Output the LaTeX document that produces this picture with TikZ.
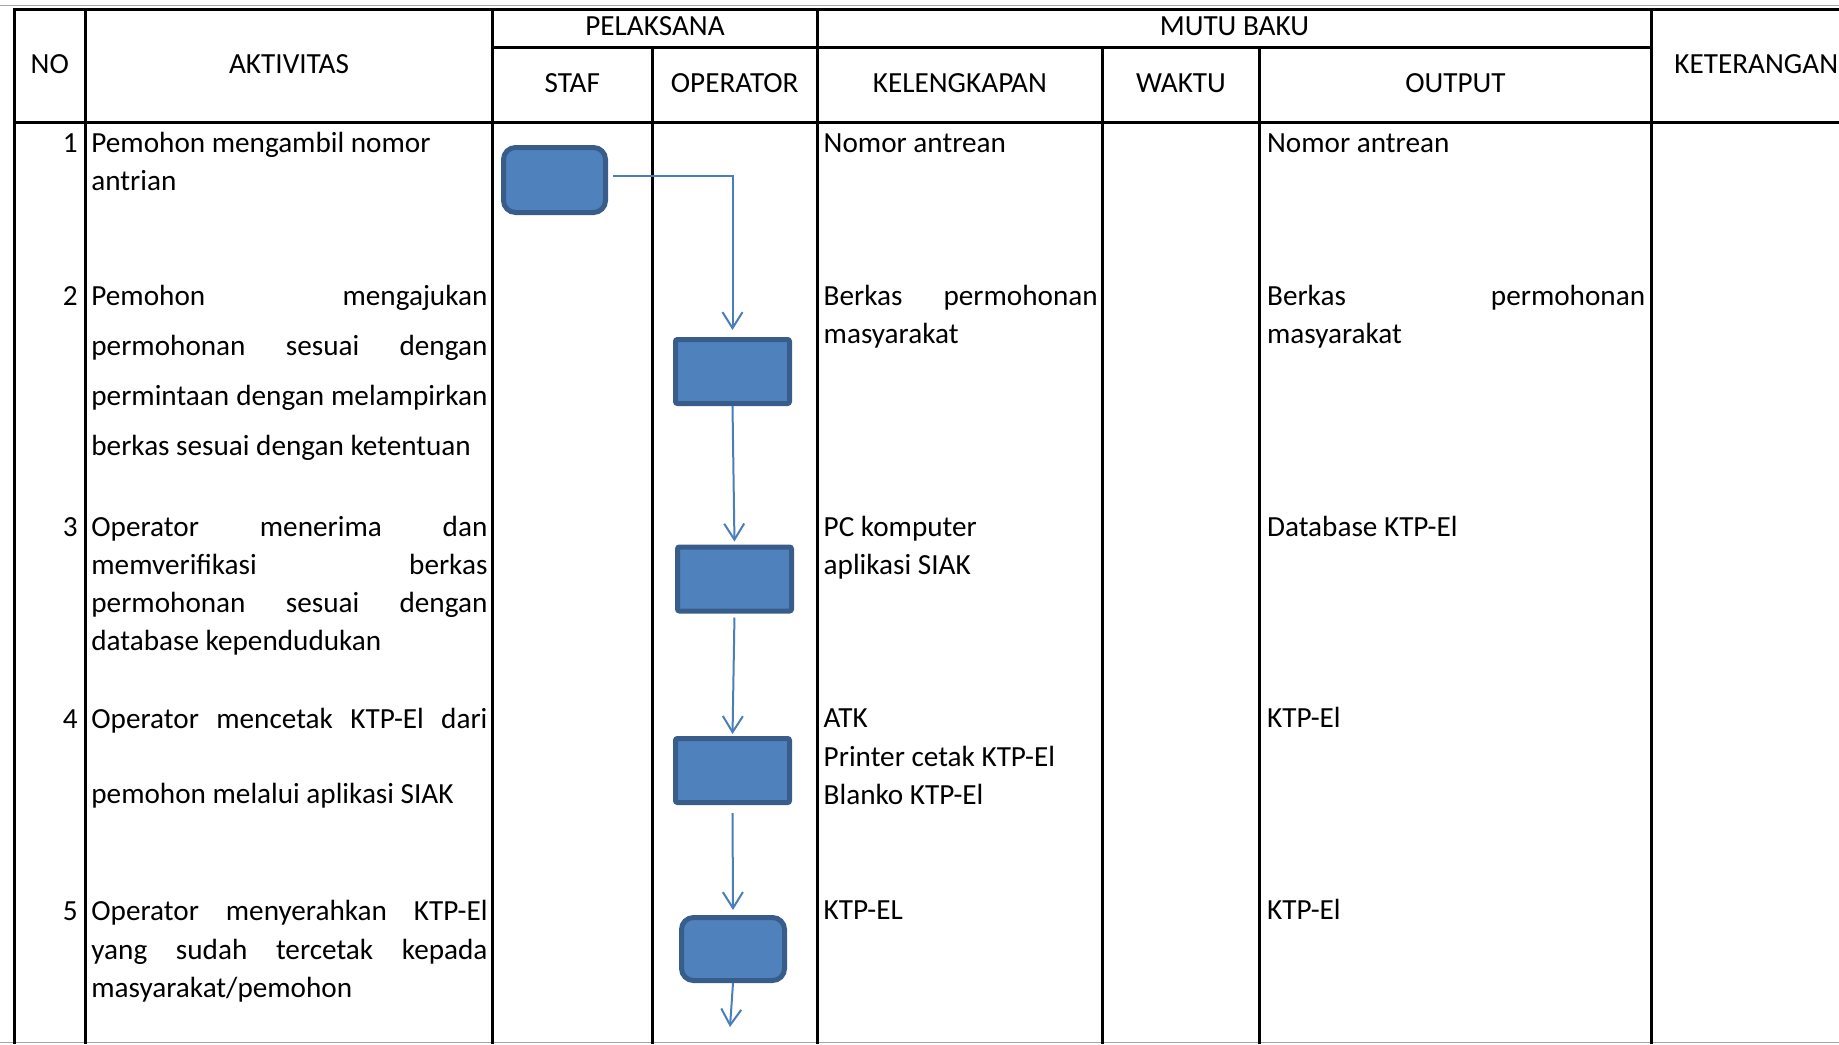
\documentclass[tikz,border=0pt]{standalone}
\usepackage{fontspec}
\setmainfont{Carlito}
\usetikzlibrary{arrows.meta}
\definecolor{boxfill}{HTML}{4F81BD}
\definecolor{boxline}{HTML}{385D8A}
\definecolor{connc}{HTML}{4A7EBB}
\begin{document}
\begin{tikzpicture}[x=0.5pt,y=-0.5pt,
  font=\fontsize{14.6}{17.5}\selectfont,
  grid/.style={line width=1.5pt, black, line cap=rect},
  edge/.style={line width=0.6pt, black!35},
  txt/.style={anchor=base west, inner sep=0pt},
  num/.style={anchor=base east, inner sep=0pt},
  hdr/.style={anchor=base, inner sep=0pt},
  procbox/.style={draw=boxline, fill=boxfill, line width=2.5pt, minimum width=57pt, minimum height=32pt, rounded corners=1pt, inner sep=0pt},
  termbox/.style={procbox, rounded corners=6pt},
  flow/.style={draw=connc, line width=1pt, -{Straight Barb[length=8pt,width=10pt,line width=1pt]}}
]
\useasboundingbox (0,0) rectangle (1839,1044);
\newcommand{\JA}[1]{\makebox[198pt][s]{#1}}
\newcommand{\JK}[1]{\makebox[137pt][s]{#1}}
\newcommand{\JO}[1]{\makebox[189pt][s]{#1}}

% outer grey edges
\draw[edge] (0,5.5) -- (1839,5.5);
\draw[edge] (0,1042.5) -- (1839,1042.5);

% table grid
\draw[grid] (14,9) -- (1839,9);
\draw[grid] (492.6,47) -- (1651.3,47);
\draw[grid] (14,122) -- (1839,122);
\foreach \xx in {14,85.6,492.6,817.4,1651.3} \draw[grid] (\xx,9) -- (\xx,1042);
\foreach \xx in {652,1102.4,1259.6} \draw[grid] (\xx,47) -- (\xx,1042);

% headers
\node[hdr] (hNO) at (49.8,73.2) {NO};
\node[hdr] (hAK) at (289,73.2) {AKTIVITAS};
\node[hdr] (hPL) at (655,35.7) {PELAKSANA};
\node[hdr] (hST) at (572.3,92) {STAF};
\node[hdr] (hOP) at (734.7,92) {OPERATOR};
\node[hdr] (hMB) at (1234.4,35.7) {MUTU BAKU};
\node[hdr] (hKL) at (959.9,92) {KELENGKAPAN};
\node[hdr] (hWK) at (1181,92) {WAKTU};
\node[hdr] (hOT) at (1455.5,92) {OUTPUT};
\node[txt] (hKT) at (1674,73.2) {KETERANGAN};

% numbers
\node[num] (n1) at (78,152.3) {1};
\node[num] (n2) at (78,305.7) {2};
\node[num] (n3) at (78,536.7) {3};
\node[num] (n4) at (78,728.3) {4};
\node[num] (n5) at (78,920.3) {5};

% aktivitas
\node[txt] (a1a) at (91,152.3) {Pemohon mengambil nomor};
\node[txt] (a1b) at (91,190) {antrian};
\node[txt] (a2a) at (91,305.7) {\JA{Pemohon mengajukan}};
\node[txt] (a2b) at (91,355.3) {\JA{permohonan sesuai dengan}};
\node[txt] (a2c) at (91,405.3) {\JA{permintaan dengan melampirkan}};
\node[txt] (a2d) at (91,455) {berkas sesuai dengan ketentuan};
\node[txt] (a3a) at (91,536.7) {\JA{Operator menerima dan}};
\node[txt] (a3b) at (91,574.3) {\JA{memverifikasi berkas}};
\node[txt] (a3c) at (91,612) {\JA{permohonan sesuai dengan}};
\node[txt] (a3d) at (91,650.3) {database kependudukan};
\node[txt] (a4a) at (91,728.3) {\JA{Operator mencetak KTP-El dari}};
\node[txt] (a4b) at (91,803.3) {pemohon melalui aplikasi SIAK};
\node[txt] (a5a) at (91,920.3) {\JA{Operator menyerahkan KTP-El}};
\node[txt] (a5b) at (91,959) {\JA{yang sudah tercetak kepada}};
\node[txt] (a5c) at (91,997.7) {masyarakat/pemohon};

% kelengkapan
\node[txt] (k1) at (823.3,152.3) {Nomor antrean};
\node[txt] (k2a) at (823.3,305.7) {\JK{Berkas permohonan}};
\node[txt] (k2b) at (823.3,343.3) {masyarakat};
\node[txt] (k3a) at (823.3,536.7) {PC komputer};
\node[txt] (k3b) at (823.3,574.3) {aplikasi SIAK};
\node[txt] (k4a) at (823.3,727.7) {ATK};
\node[txt] (k4b) at (823.3,766.7) {Printer cetak KTP-El};
\node[txt] (k4c) at (823.3,804.3) {Blanko KTP-El};
\node[txt] (k5) at (823.3,919.3) {KTP-EL};

% output
\node[txt] (o1) at (1266.7,152.3) {Nomor antrean};
\node[txt] (o2a) at (1266.7,305.7) {\JO{Berkas permohonan}};
\node[txt] (o2b) at (1266.7,343.3) {masyarakat};
\node[txt] (o3) at (1266.7,536.7) {Database KTP-El};
\node[txt] (o4) at (1266.7,727.7) {KTP-El};
\node[txt] (o5) at (1266.7,919.3) {KTP-El};

% flow shapes
\node[termbox, minimum width=51pt, minimum height=32.5pt] (b1) at (554.5,180) {};
\node[procbox] (b2) at (732.5,371.5) {};
\node[procbox] (b3) at (734.5,579) {};
\node[procbox] (b4) at (732.5,770.5) {};
\node[termbox, minimum width=51.5pt, minimum height=31.5pt] (b5) at (733,949) {};
\coordinate (bend) at (730,1027);

% connectors
\draw[flow, shorten <=2.5pt, shorten >=3.5pt] ([yshift=2pt]b1.east) -| (b2.north);
\draw[flow, shorten >=1.5pt] (b2.south) -- (b3.north);
\draw[flow, shorten <=2pt, shorten >=1pt] (b3.south) -- (b4.north);
\draw[flow, shorten <=4pt, shorten >=2.5pt] (b4.south) -- (b5.north);
\draw[flow] (b5.south) -- (bend);
\end{tikzpicture}
\end{document}
